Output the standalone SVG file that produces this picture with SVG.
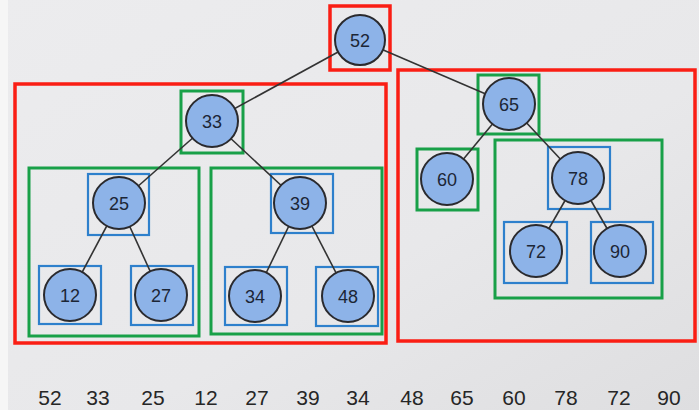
<svg xmlns="http://www.w3.org/2000/svg" width="699" height="410" viewBox="0 0 699 410">
  <defs>
    <linearGradient id="bg" x1="0" y1="0" x2="1" y2="1">
      <stop offset="0" stop-color="#ececee"/>
      <stop offset="0.6" stop-color="#e8e8ea"/>
      <stop offset="1" stop-color="#dedee0"/>
    </linearGradient>
  </defs>
  <style>
    .red { fill: none; stroke: #fa1e14; stroke-width: 3.5; }
    .green { fill: none; stroke: #18a048; stroke-width: 3; }
    .blue { fill: none; stroke: #2e80cc; stroke-width: 2.2; }
    .node circle { fill: #8db3e8; stroke: #2a2a2e; stroke-width: 2; }
    .node text { font-family: "Liberation Sans", Arial, sans-serif; font-size: 18px; fill: #1c2636; text-anchor: middle; }
    .edges line { stroke: #333; stroke-width: 1.6; }
    .seq text { font-family: "Liberation Sans", Arial, sans-serif; font-size: 21px; fill: #262626; text-anchor: middle; }
  </style>

  <!-- background -->
  <rect width="699" height="410" fill="url(#bg)"/>
  <rect x="0" y="0" width="8" height="410" fill="#f6f6f6"/>

  <!-- subtree frames -->
  <g id="frames">
    <rect class="red" x="330" y="6" width="60" height="64"/>
    <rect class="red" x="15" y="84" width="371" height="259"/>
    <rect class="red" x="398" y="70" width="297" height="271"/>
    <rect class="green" x="181" y="91" width="62" height="62"/>
    <rect class="green" x="478" y="75" width="61" height="59"/>
    <rect class="green" x="29" y="168" width="170" height="168"/>
    <rect class="green" x="211" y="168" width="171" height="166"/>
    <rect class="green" x="417" y="149" width="61" height="61"/>
    <rect class="green" x="495" y="140" width="167" height="158"/>
    <rect class="blue" x="88" y="174" width="61" height="61"/>
    <rect class="blue" x="271" y="174" width="62" height="59"/>
    <rect class="blue" x="39" y="266" width="62" height="58"/>
    <rect class="blue" x="131" y="266" width="62" height="59"/>
    <rect class="blue" x="225" y="267" width="62" height="58"/>
    <rect class="blue" x="316" y="267" width="62" height="59"/>
    <rect class="blue" x="548" y="147" width="62" height="62"/>
    <rect class="blue" x="504" y="222" width="63" height="61"/>
    <rect class="blue" x="591" y="222" width="62" height="61"/>
  </g>

  <!-- connectors -->
  <g id="connectors" class="edges">
    <line x1="360" y1="40" x2="212" y2="121"/>
    <line x1="360" y1="40" x2="509" y2="104"/>
    <line x1="212" y1="121" x2="119" y2="203"/>
    <line x1="212" y1="121" x2="300" y2="203"/>
    <line x1="119" y1="203" x2="70" y2="295"/>
    <line x1="119" y1="203" x2="161" y2="295"/>
    <line x1="300" y1="203" x2="255" y2="296"/>
    <line x1="300" y1="203" x2="348" y2="296"/>
    <line x1="509" y1="104" x2="447" y2="179"/>
    <line x1="509" y1="104" x2="578" y2="178"/>
    <line x1="578" y1="178" x2="536" y2="251"/>
    <line x1="578" y1="178" x2="620" y2="251"/>
  </g>

  <!-- nodes -->
  <g id="n52" class="node"><circle cx="360" cy="40" r="25"/><text x="360" y="46.5">52</text></g>
  <g id="n33" class="node"><circle cx="212" cy="121" r="26"/><text x="212" y="127.5">33</text></g>
  <g id="n65" class="node"><circle cx="509" cy="104" r="26"/><text x="509" y="110.5">65</text></g>
  <g id="n25" class="node"><circle cx="119" cy="203" r="26"/><text x="119" y="209.5">25</text></g>
  <g id="n39" class="node"><circle cx="300" cy="203" r="26"/><text x="300" y="209.5">39</text></g>
  <g id="n12" class="node"><circle cx="70" cy="295" r="26"/><text x="70" y="301.5">12</text></g>
  <g id="n27" class="node"><circle cx="161" cy="295" r="26"/><text x="161" y="301.5">27</text></g>
  <g id="n34" class="node"><circle cx="255" cy="296" r="26"/><text x="255" y="302.5">34</text></g>
  <g id="n48" class="node"><circle cx="348" cy="296" r="26"/><text x="348" y="302.5">48</text></g>
  <g id="n60" class="node"><circle cx="447" cy="179" r="26"/><text x="447" y="185.5">60</text></g>
  <g id="n78" class="node"><circle cx="578" cy="178" r="26"/><text x="578" y="184.5">78</text></g>
  <g id="n72" class="node"><circle cx="536" cy="251" r="26"/><text x="536" y="257.5">72</text></g>
  <g id="n90" class="node"><circle cx="620" cy="251" r="26"/><text x="620" y="257.5">90</text></g>

  <!-- preorder sequence -->
  <g id="sequence" class="seq">
    <text x="50" y="404.5">52</text>
    <text x="98" y="404.5">33</text>
    <text x="153" y="404.5">25</text>
    <text x="206" y="404.5">12</text>
    <text x="257" y="404.5">27</text>
    <text x="308" y="404.5">39</text>
    <text x="358" y="404.5">34</text>
    <text x="412" y="404.5">48</text>
    <text x="462" y="404.5">65</text>
    <text x="514" y="404.5">60</text>
    <text x="566" y="404.5">78</text>
    <text x="619" y="404.5">72</text>
    <text x="669" y="404.5">90</text>
  </g>
</svg>
